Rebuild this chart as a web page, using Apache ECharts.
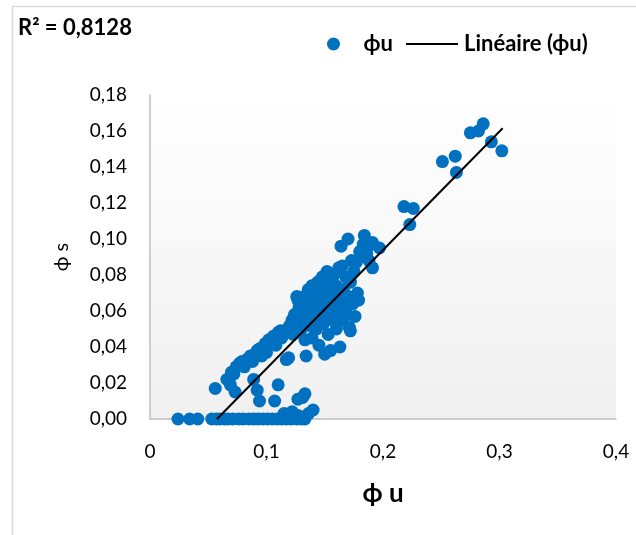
<!DOCTYPE html>
<html>
<head>
<meta charset="utf-8">
<title>ϕs en fonction de ϕu</title>
<script src="https://cdn.jsdelivr.net/npm/echarts@6/dist/echarts.min.js"></script>
<style>
  html, body { margin: 0; padding: 0; background: #ffffff; }
  #chart { width: 636px; height: 535px; }
</style>
</head>
<body>
<div id="chart"></div>
<script>
// Measured points: ϕu (x) and ϕs (y)
const phiU = [
  // ϕs = 0 row
  0.024, 0.034, 0.041, 0.053, 0.057, 0.060, 0.064, 0.067, 0.071, 0.076, 0.080, 0.085,
  0.089, 0.093, 0.097, 0.101, 0.105, 0.109, 0.113, 0.117, 0.121, 0.126, 0.130, 0.133,
  0.115, 0.122, 0.136, 0.140, 0.127,
  // low values
  0.056, 0.066, 0.069, 0.073, 0.089, 0.092, 0.094, 0.110, 0.107, 0.127, 0.133, 0.131,
  // main band
  0.070, 0.072, 0.074, 0.077, 0.079, 0.081, 0.083, 0.086, 0.088, 0.090, 0.092, 0.094,
  0.096, 0.097, 0.099, 0.100, 0.102, 0.104, 0.106, 0.108, 0.110, 0.112, 0.113, 0.115,
  0.117, 0.119, 0.118, 0.120, 0.122, 0.123, 0.124, 0.126, 0.127, 0.128, 0.129, 0.130,
  0.131, 0.132, 0.133, 0.134, 0.134, 0.136, 0.137, 0.138, 0.139, 0.140, 0.141, 0.142,
  0.143, 0.144, 0.145, 0.146, 0.146, 0.147, 0.148, 0.149, 0.150, 0.150, 0.151, 0.152,
  0.153, 0.154, 0.155, 0.155, 0.156, 0.157, 0.158, 0.159, 0.160, 0.160, 0.161, 0.162,
  0.163, 0.163, 0.164, 0.165, 0.165, 0.166, 0.167, 0.168, 0.169, 0.170, 0.170, 0.171,
  0.172, 0.172, 0.173, 0.174, 0.175, 0.176, 0.177, 0.178, 0.179, 0.180, 0.181, 0.183,
  0.184, 0.186, 0.188, 0.190, 0.191, 0.191, 0.197,
  0.148, 0.152, 0.156, 0.143, 0.139, 0.132,
  // upper values
  0.218, 0.226, 0.223, 0.251, 0.262, 0.263, 0.275, 0.282, 0.286, 0.293, 0.302
];
const phiS = [
  0, 0, 0, 0, 0, 0, 0, 0, 0, 0, 0, 0,
  0, 0, 0, 0, 0, 0, 0, 0, 0, 0, 0, 0,
  0.003, 0.004, 0.003, 0.005, 0.002,
  0.017, 0.022, 0.019, 0.015, 0.022, 0.016, 0.010, 0.019, 0.010, 0.011, 0.014, 0.012,
  0.026, 0.025, 0.029, 0.031, 0.032, 0.029, 0.033, 0.035, 0.032, 0.036, 0.038, 0.039,
  0.035, 0.040, 0.042, 0.037, 0.044, 0.042, 0.046, 0.041, 0.048, 0.049, 0.045, 0.047,
  0.033, 0.034, 0.050, 0.052, 0.055, 0.047, 0.058, 0.068, 0.066, 0.062, 0.055, 0.050,
  0.060, 0.064, 0.044, 0.035, 0.057, 0.072, 0.052, 0.067, 0.045, 0.062, 0.070, 0.056,
  0.050, 0.076, 0.041, 0.077, 0.064, 0.058, 0.070, 0.053, 0.036, 0.066, 0.073, 0.060,
  0.047, 0.069, 0.038, 0.075, 0.063, 0.055, 0.080, 0.068, 0.050, 0.074, 0.060, 0.084,
  0.040, 0.066, 0.096, 0.055, 0.085, 0.072, 0.062, 0.079, 0.058, 0.100, 0.068, 0.051,
  0.049, 0.076, 0.088, 0.064, 0.082, 0.057, 0.087, 0.070, 0.066, 0.093, 0.090, 0.097,
  0.102, 0.092, 0.088, 0.097, 0.098, 0.084, 0.095,
  0.079, 0.082, 0.078, 0.072, 0.074, 0.068,
  0.118, 0.117, 0.108, 0.143, 0.146, 0.137, 0.159, 0.160, 0.164, 0.154, 0.149
];

// Linear trend (least squares), clipped at ϕs = 0
const trendU = [0.0575, 0.3027];
const trendS = [0.0, 0.1615];
const rSquared = '0,8128';

const xTicks = [0, 0.1, 0.2, 0.3, 0.4];
const yTicks = [0, 0.02, 0.04, 0.06, 0.08, 0.10, 0.12, 0.14, 0.16, 0.18];

const FONT = 'Lato, "Liberation Sans", sans-serif';
const points = phiU.map((u, i) => [u, phiS[i]]);
const trend = trendU.map((u, i) => [u, trendS[i]]);

const legendText = { fontFamily: FONT, fontSize: 22, fontWeight: 'bold', color: '#000000' };

const chart = echarts.init(document.getElementById('chart'), null, { renderer: 'canvas' });

chart.setOption({
  animation: false,
  backgroundColor: '#ffffff',
  textStyle: { fontFamily: FONT },
  graphic: [{
    type: 'rect',
    z: -10,
    silent: true,
    shape: { x: 12.5, y: 6.5, width: 700, height: 700 },
    style: { fill: 'none', stroke: '#d9d9d9', lineWidth: 1.5 }
  }],
  title: {
    text: 'R² = ' + rSquared,
    left: 13,
    top: 12,
    textStyle: { fontFamily: FONT, fontSize: 22, fontWeight: 'bold', color: '#000000' }
  },
  legend: [
    {
      left: 327,
      top: 33,
      padding: 0,
      itemWidth: 26,
      itemHeight: 13,
      textStyle: Object.assign({ padding: [0, 0, 0, 12] }, legendText),
      data: [{ name: 'ϕu', icon: 'circle' }]
    },
    {
      left: 405,
      top: 33,
      padding: 0,
      itemWidth: 52,
      itemHeight: 13,
      textStyle: Object.assign({ padding: [0, 0, 0, 1] }, legendText),
      data: [{ name: 'Linéaire (ϕu)', itemStyle: { opacity: 0 } }]
    }
  ],
  grid: {
    left: 150,
    top: 95,
    width: 466,
    height: 324,
    show: true,
    borderWidth: 0,
    backgroundColor: new echarts.graphic.LinearGradient(0, 0, 0, 1, [
      { offset: 0, color: '#ffffff' },
      { offset: 1, color: '#f0f0f0' }
    ])
  },
  xAxis: {
    type: 'value',
    min: xTicks[0],
    max: xTicks[xTicks.length - 1],
    interval: 0.1,
    name: 'ϕ u',
    nameLocation: 'middle',
    nameGap: 62,
    nameTextStyle: { fontFamily: FONT, fontSize: 26, fontWeight: 'bold', color: '#000000' },
    axisLine: { show: true, lineStyle: { color: '#bfbfbf', width: 1.5 } },
    axisTick: { show: false },
    splitLine: { show: false },
    axisLabel: {
      margin: 23,
      fontSize: 19,
      color: '#000000',
      fontFamily: FONT,
      formatter: v => (v === 0 ? '0' : v.toFixed(1).replace('.', ','))
    }
  },
  yAxis: {
    type: 'value',
    min: yTicks[0],
    max: yTicks[yTicks.length - 1],
    interval: 0.02,
    name: 'ϕ s',
    nameLocation: 'middle',
    nameGap: 78,
    nameTextStyle: { fontFamily: FONT, fontSize: 20, color: '#000000' },
    axisLine: { show: true, lineStyle: { color: '#bfbfbf', width: 1.5 } },
    axisTick: { show: false },
    splitLine: { show: false },
    axisLabel: {
      margin: 23,
      fontSize: 19,
      color: '#000000',
      fontFamily: FONT,
      formatter: v => v.toFixed(2).replace('.', ',')
    }
  },
  series: [
    {
      name: 'ϕu',
      type: 'scatter',
      symbol: 'circle',
      symbolSize: 13,
      itemStyle: { color: '#0070c0', opacity: 1 },
      data: points,
      z: 2
    },
    {
      name: 'Linéaire (ϕu)',
      type: 'line',
      symbol: 'none',
      lineStyle: { color: '#000000', width: 2 },
      itemStyle: { color: '#000000' },
      data: trend,
      z: 3
    }
  ]
});
</script>
</body>
</html>
